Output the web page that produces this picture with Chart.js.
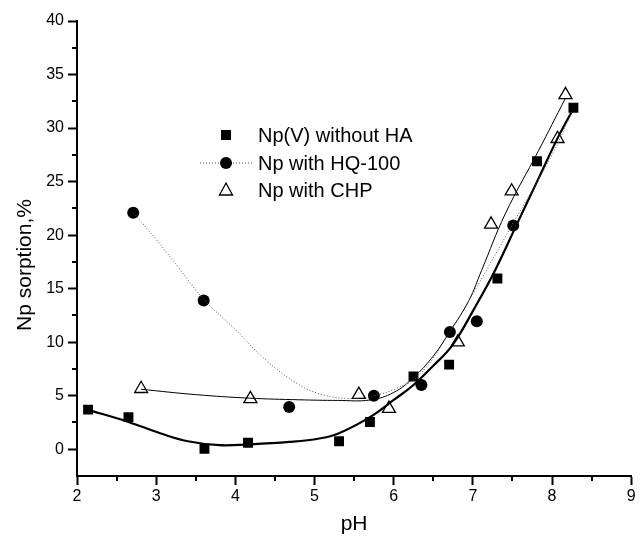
<!DOCTYPE html>
<html>
<head>
<meta charset="utf-8">
<script src="https://cdn.jsdelivr.net/npm/chart.js@4.4.1/dist/chart.umd.min.js"></script>
<style>
  body { margin: 0; background: #fff; }
</style>
</head>
<body>
<canvas id="sorptionChart" width="640" height="537"></canvas>
<script>
// measured points (pH, sorption %)
let seriesNames = ['Np(V) without HA', 'Np with HQ-100', 'Np with CHP'];

let npNoHA = [[2.14, 3.7], [2.65, 3.0], [3.61, 0.05], [4.16, 0.6], [5.31, 0.75], [5.70, 2.55],
              [6.25, 6.8], [6.70, 7.9], [7.31, 15.95], [7.81, 26.9], [8.27, 31.9]];
let npHQ = [[2.71, 22.1], [3.60, 13.9], [4.68, 3.95], [5.75, 5.0], [6.35, 6.0], [6.71, 10.95],
            [7.05, 11.95], [7.51, 20.9]];
let npCHP = [[2.81, 5.65], [4.19, 4.7], [5.56, 5.1], [5.94, 3.8], [6.81, 10.0], [7.23, 21.0],
             [7.49, 24.1], [8.07, 29.0], [8.17, 33.1]];

// fitted curves
let fitNoHA = [[2.13, 3.7], [2.65, 2.55], [3.05, 1.5], [3.4, 0.75], [3.8, 0.38], [4.16, 0.45],
               [4.68, 0.68], [5.06, 1.0], [5.31, 1.5], [5.70, 3.0], [6.0, 4.6], [6.25, 6.0], [6.5, 7.8],
               [6.74, 9.7], [7.03, 13.3], [7.28, 16.7], [7.58, 21.4], [7.83, 25.3], [8.08, 29.2], [8.27, 31.8]];
let fitHQ = [[2.71, 22.1], [3.0, 19.6], [3.3, 16.8], [3.6, 14.0], [3.97, 11.4], [4.39, 8.3], [4.81, 6.0],
             [5.1, 5.1], [5.45, 4.74], [5.75, 5.0], [6.03, 5.67], [6.32, 6.9], [6.70, 10.8], [7.03, 14.9],
             [7.5, 21.0], [8.0, 27.5], [8.25, 31.5]];
let fitCHP = [[2.81, 5.6], [3.5, 5.1], [4.18, 4.77], [4.8, 4.62], [5.3, 4.56], [5.7, 4.6], [6.0, 5.3],
              [6.25, 6.7], [6.5, 8.7], [6.71, 11.0], [6.95, 13.9], [7.11, 16.7], [7.41, 22.0], [7.83, 27.9],
              [8.17, 32.8]];

// axis ticks
let xTicks = [2, 3, 4, 5, 6, 7, 8, 9];
let xMinor = [2.5, 3.5, 4.5, 5.5, 6.5, 7.5, 8.5];
let yTicks = [0, 5, 10, 15, 20, 25, 30, 35, 40];
let yMinor = [2.5, 7.5, 12.5, 17.5, 22.5, 27.5, 32.5, 37.5];
let xTitle = 'pH';
let yTitle = 'Np sorption,%';

const FONT = "'Liberation Sans', Arial, sans-serif";

function pts(arr) {
    return arr.map(p => ({ x: p[0], y: p[1] }));
}

// short ticks at the half steps
const minorTicks = {
    id: 'minorTicks',
    afterDraw(chart) {
        const { ctx, chartArea, scales } = chart;
        ctx.save();
        ctx.strokeStyle = '#000';
        ctx.lineWidth = 2;
        ctx.beginPath();
        xMinor.forEach(v => {
            let px = Math.round(scales.x.getPixelForValue(v));
            ctx.moveTo(px, chartArea.bottom);
            ctx.lineTo(px, chartArea.bottom + 5);
        });
        yMinor.forEach(v => {
            let py = Math.round(scales.y.getPixelForValue(v));
            ctx.moveTo(chartArea.left, py);
            ctx.lineTo(chartArea.left - 5, py);
        });
        ctx.stroke();
        ctx.restore();
    }
};

// y title sits a bit below the middle of the axis in the original
const yTitlePlugin = {
    id: 'yTitlePlugin',
    afterDraw(chart) {
        const ctx = chart.ctx;
        ctx.save();
        ctx.translate(25, 265);
        ctx.rotate(-Math.PI / 2);
        ctx.font = '21px ' + FONT;
        ctx.fillStyle = '#000';
        ctx.textAlign = 'center';
        ctx.textBaseline = 'middle';
        ctx.fillText(yTitle, 0, 0);
        ctx.restore();
    }
};

// legend box inside the plot
const innerLegend = {
    id: 'innerLegend',
    afterDraw(chart) {
        const ctx = chart.ctx;
        const mx = 226, tx = 258, rows = [135, 163, 190];
        ctx.save();
        ctx.fillStyle = '#000';
        ctx.strokeStyle = '#000';
        // square
        ctx.fillRect(mx - 5, rows[0] - 5, 10, 10);
        // dotted line + circle
        ctx.save();
        ctx.strokeStyle = '#555';
        ctx.lineWidth = 1;
        ctx.setLineDash([1, 2]);
        ctx.beginPath();
        ctx.moveTo(200, rows[1]);
        ctx.lineTo(252, rows[1]);
        ctx.stroke();
        ctx.restore();
        ctx.beginPath();
        ctx.arc(mx, rows[1], 6, 0, Math.PI * 2);
        ctx.fill();
        // open triangle
        ctx.lineWidth = 1.3;
        ctx.beginPath();
        ctx.moveTo(mx, rows[2] - 7);
        ctx.lineTo(mx + 6.5, rows[2] + 5);
        ctx.lineTo(mx - 6.5, rows[2] + 5);
        ctx.closePath();
        ctx.stroke();

        ctx.font = '20px ' + FONT;
        ctx.textBaseline = 'middle';
        ctx.textAlign = 'left';
        seriesNames.forEach((name, i) => ctx.fillText(name, tx, rows[i] + 1));
        ctx.restore();
    }
};

let ctx = document.getElementById('sorptionChart').getContext('2d');
let sorptionChart = new Chart(ctx, {
    type: 'scatter',
    data: {
        datasets: [
            { label: 'fit HQ', data: pts(fitHQ), showLine: true, pointRadius: 0, borderColor: '#555',
              borderWidth: 1, borderDash: [1, 2], tension: 0.4 },
            { label: 'fit CHP', data: pts(fitCHP), showLine: true, pointRadius: 0, borderColor: '#000',
              borderWidth: 1, tension: 0.4 },
            { label: 'fit no HA', data: pts(fitNoHA), showLine: true, pointRadius: 0, borderColor: '#000',
              borderWidth: 2.2, tension: 0.4 },
            { label: seriesNames[0], data: pts(npNoHA), pointStyle: 'rect', pointRadius: 7,
              backgroundColor: '#000', borderColor: '#000', borderWidth: 0 },
            { label: seriesNames[1], data: pts(npHQ), pointStyle: 'circle', pointRadius: 6,
              backgroundColor: '#000', borderColor: '#000', borderWidth: 0 },
            { label: seriesNames[2], data: pts(npCHP), pointStyle: 'triangle', pointRadius: 7.5,
              backgroundColor: 'rgba(0,0,0,0)', borderColor: '#000', borderWidth: 1.3 }
        ]
    },
    options: {
        responsive: false,
        animation: false,
        layout: { padding: { top: 21, right: 7, left: 0, bottom: 0 } },
        plugins: {
            legend: { display: false },
            tooltip: { enabled: false }
        },
        scales: {
            x: {
                type: 'linear',
                min: 2,
                max: 9,
                afterBuildTicks: s => { s.ticks = xTicks.map(v => ({ value: v })); },
                afterFit: s => { s.height = 61; },
                ticks: { color: '#000', font: { family: FONT, size: 16 }, padding: 2, maxRotation: 0 },
                grid: { drawOnChartArea: false, tickLength: 9, tickWidth: 2, tickColor: '#000' },
                border: { display: true, color: '#000', width: 2 },
                title: { display: true, text: xTitle, color: '#000', font: { family: FONT, size: 21 },
                         padding: { top: 0, bottom: 0 } }
            },
            y: {
                type: 'linear',
                min: -2.5,
                max: 40,
                afterBuildTicks: s => { s.ticks = yTicks.map(v => ({ value: v })); },
                afterFit: s => { s.width = 77; },
                ticks: { color: '#000', font: { family: FONT, size: 16 }, padding: 4 },
                grid: { drawOnChartArea: false, tickLength: 9, tickWidth: 2, tickColor: '#000' },
                border: { display: true, color: '#000', width: 2 }
            }
        }
    },
    plugins: [minorTicks, yTitlePlugin, innerLegend]
});
</script>
</body>
</html>
